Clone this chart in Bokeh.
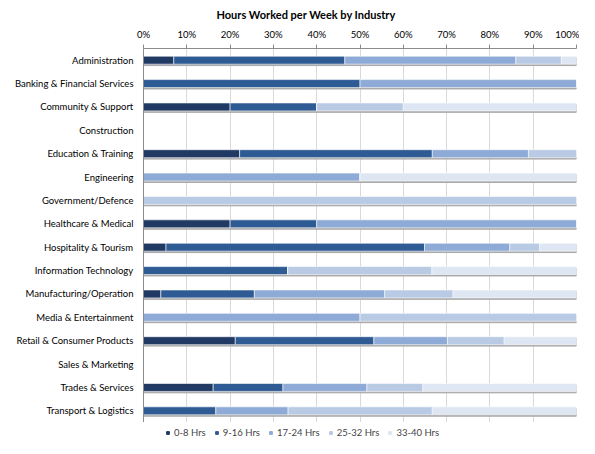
from bokeh.plotting import figure
from bokeh.layouts import column
from bokeh.models import FactorRange, Legend, LegendItem, PrintfTickFormatter, FixedTicker, ColumnDataSource
from bokeh.transform import dodge
from bokeh.embed import file_html
from bokeh.resources import INLINE

categories = [
    "Administration", "Banking & Financial Services", "Community & Support",
    "Construction", "Education & Training", "Engineering", "Government/Defence",
    "Healthcare & Medical", "Hospitality & Tourism", "Information Technology",
    "Manufacturing/Operation", "Media & Entertainment", "Retail & Consumer Products",
    "Sales & Marketing", "Trades & Services", "Transport & Logistics",
]
series = ["0-8 Hrs", "9-16 Hrs", "17-24 Hrs", "25-32 Hrs", "33-40 Hrs"]

hrs_0_8 = [7.0, 0, 20.0, 0, 22.2, 0, 0, 20.0, 5.2, 0, 4.0, 0, 21.2, 0, 16.1, 0]
hrs_9_16 = [39.5, 50.0, 20.0, 0, 44.5, 0, 0, 20.0, 59.7, 33.3, 21.6, 0, 32.0, 0, 16.1, 16.7]
hrs_17_24 = [39.5, 50.0, 0, 0, 22.2, 50.0, 0, 60.0, 19.7, 0, 30.1, 50.0, 17.0, 0, 19.4, 16.7]
hrs_25_32 = [10.5, 0, 20.0, 0, 11.1, 0, 100.0, 0, 6.9, 33.3, 15.8, 50.0, 13.1, 0, 12.9, 33.3]
hrs_33_40 = [3.5, 0, 40.0, 0, 0, 50.0, 0, 0, 8.5, 33.4, 28.5, 0, 16.7, 0, 35.5, 33.3]

colors = ["#203a64", "#2f5b95", "#8eaad6", "#b8cae4", "#dde6f2"]
FONT = "Lato"

cols = [hrs_0_8, hrs_9_16, hrs_17_24, hrs_25_32, hrs_33_40]
data = {"cat": categories}
for s, c in zip(series, cols):
    data[s] = c
data["total"] = [sum(v) for v in zip(*cols)]
src = ColumnDataSource(data)

p = figure(width=579, height=422, y_range=FactorRange(*reversed(categories)),
           x_range=(0, 100), x_axis_location="above",
           output_backend="svg", toolbar_location=None,
           title="Hours Worked per Week by Industry",
           min_border_left=143, min_border_right=3, min_border_top=5, min_border_bottom=0)

p.title.align = "left"
p.title.offset = 73
p.title.text_font = FONT
p.title.text_font_size = "11px"
p.title.text_font_style = "bold"
p.title.text_color = "#000000"

p.hbar(y=dodge("cat", -0.06, range=p.y_range), left=0, right="total", height=0.34,
       color="#a8a8a8", source=src)
rs = p.hbar_stack(series, y="cat", height=0.34, color=colors, source=src,
                  line_color="white", line_width=0.6)

p.outline_line_color = None
p.ygrid.grid_line_color = None
p.xgrid.grid_line_color = "#d9d9d9"
p.xgrid.grid_line_width = 1
p.xaxis.ticker = FixedTicker(ticks=list(range(0, 101, 10)))
p.xaxis.formatter = PrintfTickFormatter(format="%d%%")
p.xaxis.axis_line_color = "#8c8c8c"
p.xaxis.major_tick_line_color = "#8c8c8c"
p.xaxis.major_tick_in = 0
p.xaxis.major_tick_out = 4
p.xaxis.minor_tick_line_color = None
p.xaxis.major_label_text_font = FONT
p.xaxis.major_label_text_font_size = "9.5px"
p.xaxis.major_label_text_color = "#000000"
p.xaxis.major_label_standoff = 5

p.yaxis.axis_line_color = "#8c8c8c"
p.yaxis.major_tick_line_color = None
p.yaxis.major_tick_in = 0
p.yaxis.major_tick_out = 0
p.yaxis.major_label_text_font = FONT
p.yaxis.major_label_text_font_size = "9.5px"
p.yaxis.major_label_text_color = "#000000"
p.yaxis.major_label_standoff = 10

# legend in its own strip below the chart (frame aligned with the chart frame)
lg = figure(width=579, height=16, output_backend="svg", toolbar_location=None,
            min_border=0, x_range=(0, 1), y_range=(0, 1))
lg.axis.visible = False
lg.grid.visible = False
lg.outline_line_color = None
lrs = [lg.scatter(x=[-5], y=[-5], marker="square", size=6, color=c) for c in colors]
legend = Legend(items=[LegendItem(label=s, renderers=[r]) for s, r in zip(series, lrs)],
                orientation="horizontal", location=(21, 0),
                label_text_font=FONT, label_text_font_size="9.5px",
                glyph_width=7, glyph_height=7, label_height=12, spacing=7, padding=1, margin=0,
                label_standoff=3, border_line_color=None, background_fill_alpha=0)
lg.add_layout(legend, "center")

open("out.html", "w").write(file_html(column(p, lg, spacing=0), INLINE))
